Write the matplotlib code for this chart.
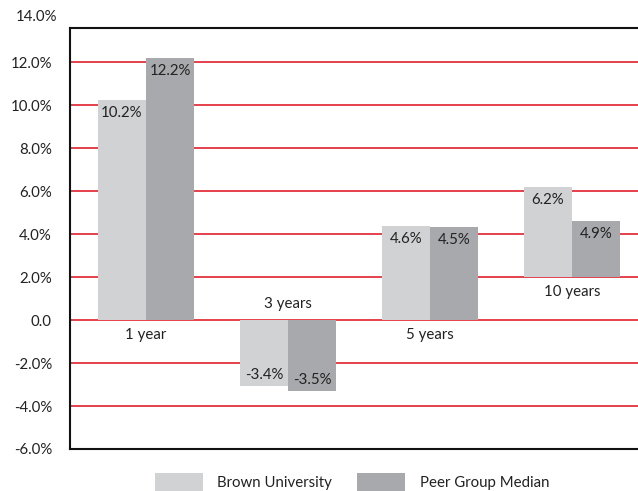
import matplotlib
matplotlib.use("Agg")
import matplotlib.pyplot as plt
import numpy as np

categories = ["1 year", "3 years", "5 years", "10 years"]
brown_values = [10.27, -3.08, 4.36, 6.22]
peer_values = [12.2, -3.28, 4.32, 4.61]
bar_base = [0, 0, 0, 2.0]
brown_labels = ["10.2%", "-3.4%", "4.6%", "6.2%"]
peer_labels = ["12.2%", "-3.5%", "4.5%", "4.9%"]
series_names = ["Brown University", "Peer Group Median"]
ytick_values = [-6, -4, -2, 0, 2, 4, 6, 8, 10, 12]
ytick_labels = ["-6.0%", "-4.0%", "-2.0%", "0.0", "2.0%", "4.0%", "6.0%", "8.0%", "10.0%", "12.0%"]
top_label = "14.0%"

plt.rcParams['font.family'] = ['Lato', 'DejaVu Sans']

c_brown = '#d1d2d4'
c_peer = '#a7a9ac'
red = '#e2323c'

fig = plt.figure(figsize=(6.38, 4.91), dpi=100)
ax = fig.add_axes([70/638, 1-449/491, 578/638, (449-28)/491])

x = np.arange(len(categories))
w = 0.338
ymin, ymax = -5.9, 13.6
ax.set_xlim(-0.535, 3.535)
ax.set_ylim(ymin, ymax)

for y in ytick_values:
    if y > ymin + 0.2:
        ax.axhline(y, color=red, lw=1.3, zorder=1)

heights_b = [v - b for v, b in zip(brown_values, bar_base)]
heights_p = [v - b for v, b in zip(peer_values, bar_base)]
ax.bar(x - w/2, heights_b, w, bottom=bar_base, color=c_brown, zorder=2, label=series_names[0])
ax.bar(x + w/2, heights_p, w, bottom=bar_base, color=c_peer, zorder=2, label=series_names[1])

fs = 10.8
for i in range(len(categories)):
    for off, val, lab in ((-w/2, brown_values[i], brown_labels[i]), (w/2, peer_values[i], peer_labels[i])):
        if val >= 0:
            ax.annotate(lab, (x[i] + off, val), xytext=(0, -13), textcoords='offset pixels',
                        ha='center', va='center', fontsize=fs, color='#222222', zorder=3)
        else:
            ax.annotate(lab, (x[i] + off, val), xytext=(0, 11), textcoords='offset pixels',
                        ha='center', va='center', fontsize=fs, color='#222222', zorder=3)
    if brown_values[i] >= 0:
        ax.annotate(categories[i], (x[i], bar_base[i]), xytext=(0, -15), textcoords='offset pixels',
                    ha='center', va='center', fontsize=fs, color='#222222')
    else:
        ax.annotate(categories[i], (x[i], bar_base[i]), xytext=(0, 16), textcoords='offset pixels',
                    ha='center', va='center', fontsize=fs, color='#222222')

ax.set_yticks(ytick_values)
ax.set_yticklabels(ytick_labels)
ax.tick_params(axis='y', length=0, pad=13, labelsize=fs, labelcolor='#222222')
ax.text(-0.0225, 1.01, top_label, transform=ax.transAxes, ha='right', va='bottom',
        fontsize=fs, color='#222222')
ax.set_xticks([])
for s in ['left', 'top', 'bottom']:
    ax.spines[s].set_linewidth(1.5)
    ax.spines[s].set_color('#111111')
ax.spines['right'].set_visible(False)

leg = fig.legend(loc='center', bbox_to_anchor=(352/638, 1-482/491), ncol=2, frameon=False,
                 fontsize=fs, handlelength=3.2, handleheight=1.5, handletextpad=0.95,
                 columnspacing=1.7)
for t in leg.get_texts():
    t.set_color('#222222')

fig.savefig('out.png', dpi=100)
